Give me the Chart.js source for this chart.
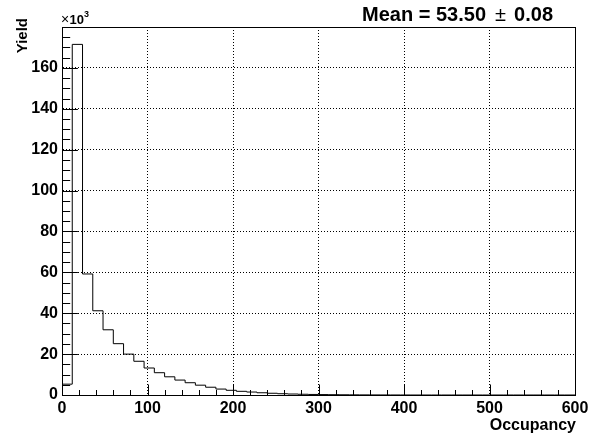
<!DOCTYPE html>
<html>
<head>
<meta charset="utf-8">
<script src="https://cdn.jsdelivr.net/npm/chart.js@4/dist/chart.umd.min.js"></script>
<style>
  body { margin: 0; background: #fff; }
  #wrap { width: 600px; height: 436px; }
</style>
</head>
<body>
<div id="wrap"><canvas id="occChart" width="600" height="436"></canvas></div>
<script>
// histogram: 50 bins of width 12 over 0..600, counts in units of 10^3
const binWidth = 12
const counts = [
    5.3, 171.5, 59.2, 41.2, 31.9, 25.1, 20.0, 16.5, 13.2, 10.9,
    8.9, 7.3, 6.0, 4.8, 3.8, 2.9, 2.3, 1.8, 1.45, 1.1,
    0.85, 0.62, 0.48, 0.36, 0.27, 0.2, 0.15, 0.11, 0.08, 0.06,
    0.04, 0.03, 0.02, 0.01, 0, 0, 0, 0, 0, 0,
    0, 0, 0, 0, 0, 0, 0, 0, 0, 0
]
const xTicks = [0, 100, 200, 300, 400, 500, 600]
const yTicks = [0, 20, 40, 60, 80, 100, 120, 140, 160]
const meanText = 'Mean = 53.50'
const errText = '0.08'

const FONT = '"Liberation Sans", Arial, Helvetica, sans-serif'

// step points: each bin's value is reached at its left edge
let points = [{x: 0, y: 0}]
counts.forEach((c, i) => {
    points.push({x: i * binWidth, y: c * 1000})
})
points.push({x: counts.length * binWidth, y: 0})

// ROOT-like frame, inward ticks and labels
const rootStyle = {
    id: 'rootStyle',
    afterDraw(chart) {
        const ctx = chart.ctx
        const area = chart.chartArea
        const xs = chart.scales.x
        const ys = chart.scales.y
        const L = Math.round(area.left) + 0.5
        const R = Math.round(area.right) + 0.5
        const T = Math.round(area.top) + 0.5
        const B = Math.round(area.bottom) + 0.5

        ctx.save()
        ctx.strokeStyle = '#000'
        ctx.lineWidth = 1
        ctx.beginPath()
        // x ticks every 20, major every 100
        for (let v = 0; v <= 600; v += 20) {
            const px = Math.round(xs.getPixelForValue(v)) + 0.5
            const len = v % 100 === 0 ? 11 : 5.5
            ctx.moveTo(px, B)
            ctx.lineTo(px, B - len)
        }
        // y ticks every 5k, major every 20k
        for (let v = 0; v <= 175000; v += 5000) {
            const py = Math.round(ys.getPixelForValue(v)) + 0.5
            const len = v % 20000 === 0 ? 15.4 : 7.7
            ctx.moveTo(L, py)
            ctx.lineTo(L + len, py)
        }
        ctx.stroke()

        ctx.strokeRect(L, T, R - L, B - T)

        ctx.fillStyle = '#000'
        ctx.textBaseline = 'alphabetic'

        // mean text
        ctx.font = 'bold 20px ' + FONT
        ctx.textAlign = 'right'
        ctx.fillText(errText, 553, 21)
        ctx.font = '20px ' + FONT
        ctx.fillText('\u00b1', 506, 21)
        ctx.font = 'bold 20px ' + FONT
        ctx.fillText(meanText, 486, 21)

        // axis titles
        ctx.font = 'bold 16px ' + FONT
        ctx.textAlign = 'right'
        ctx.fillText('Occupancy', 576, 430)

        ctx.save()
        ctx.translate(26.5, 18)
        ctx.rotate(-Math.PI / 2)
        ctx.font = 'bold 15px ' + FONT
        ctx.textAlign = 'right'
        ctx.fillText('Yield', 0, 0)
        ctx.restore()

        // exponent
        ctx.textAlign = 'left'
        ctx.font = '14px ' + FONT
        ctx.fillText('\u00d7', 61, 24)
        ctx.font = 'bold 13px ' + FONT
        ctx.fillText('10', 69.5, 24)
        ctx.font = 'bold 9px ' + FONT
        ctx.fillText('3', 84, 17)
        ctx.restore()
    }
}

let ctx = document.getElementById('occChart').getContext('2d')
let occChart = new Chart(ctx, {
    type: 'line',
    data: {
        datasets: [{
            data: points,
            borderColor: '#000',
            borderWidth: 1,
            stepped: 'before',
            pointRadius: 0,
            fill: false
        }]
    },
    options: {
        responsive: false,
        animation: false,
        layout: {
            padding: {left: 0, right: 25, top: 27, bottom: 0}
        },
        plugins: {
            legend: {display: false},
            tooltip: {enabled: false}
        },
        scales: {
            x: {
                type: 'linear',
                min: 0,
                max: 600,
                afterFit: (scale) => { scale.height = 41 },
                afterBuildTicks: (scale) => {
                    scale.ticks = xTicks.map(v => ({value: v}))
                },
                ticks: {
                    color: '#000',
                    padding: 4,
                    maxRotation: 0,
                    font: {family: FONT, size: 16, weight: 'bold'}
                },
                grid: {color: '#000', lineWidth: 1, drawTicks: false},
                border: {display: true, color: '#000', width: 1, dash: [1, 2]}
            },
            y: {
                min: 0,
                max: 180000,
                afterFit: (scale) => { scale.width = 62 },
                afterBuildTicks: (scale) => {
                    scale.ticks = yTicks.map(v => ({value: v * 1000}))
                },
                ticks: {
                    color: '#000',
                    padding: 4,
                    font: {family: FONT, size: 16, weight: 'bold'},
                    callback: (value) => value / 1000
                },
                grid: {color: '#000', lineWidth: 1, drawTicks: false},
                border: {display: true, color: '#000', width: 1, dash: [1, 2]}
            }
        }
    },
    plugins: [rootStyle]
})
</script>
</body>
</html>
